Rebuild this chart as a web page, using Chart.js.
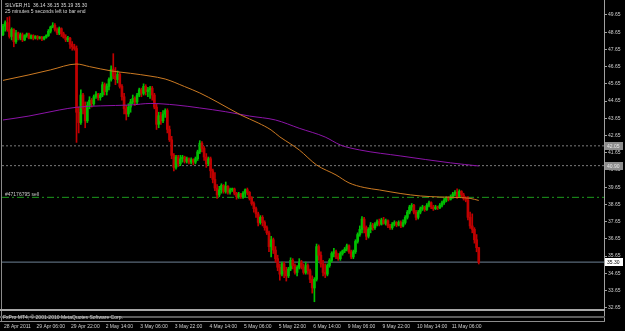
<!DOCTYPE html>
<html>
<head>
<meta charset="utf-8">
<script src="https://cdn.jsdelivr.net/npm/chart.js@4.4.0/dist/chart.umd.min.js"></script>
<style>
  html, body { margin: 0; padding: 0; background: #000; }
  #wrap { position: relative; width: 625px; height: 331px; background: #000; overflow: hidden; font-family: "Liberation Sans", Arial, sans-serif; }
  #wrap canvas { position: absolute; left: 0; top: 0; }
  .txt { position: absolute; color: #d8d8d8; font-size: 5px; line-height: 6px; white-space: nowrap; }
  .ln { position: absolute; }
</style>
</head>
<body>
<div id="wrap">
  <canvas id="chart" width="625" height="331"></canvas>
  <div class="ln" style="left:1px;top:0;width:1px;height:322px;background:#8a8a8a"></div>
  <div class="ln" style="left:604px;top:0;width:1px;height:322px;background:#a0a0a0"></div>
  <div class="ln" style="left:0;top:309px;width:605px;height:2px;background:#a8a8a8"></div>
  <div class="ln" style="left:0;top:316px;width:605px;height:2px;background:#5c5c5c"></div>
  <div class="ln" style="left:0;top:321px;width:605px;height:1px;background:#8c8c8c"></div>
  <div class="txt" style="left:5px;top:2px">SILVER,H1&nbsp; 36.14 36.15 35.19 35.30</div>
  <div class="txt" style="left:5px;top:8px">25 minutes 5 seconds left to bar end</div>
  <div class="txt" style="left:5px;top:191px;color:#c8c8c8">#47176795 sell</div>
  <div class="txt" style="left:3px;top:314px;color:#d0d0d0">FxPro MT4, © 2001-2010 MetaQuotes Software Corp.</div>
</div>
<script>
// hourly candles, [open, high, low, close]
const ohlc = [
  [48.5,49.1,48.45,49.0],[49.0,49.3,48.7,49.2],[49.2,49.5,48.7,48.8],[48.8,49.55,48.3,48.4],[48.4,48.9,48.2,48.8],
  [48.8,48.85,47.8,48.1],[48.1,48.75,48.0,48.6],[48.6,48.65,48.2,48.3],[48.3,48.6,48.2,48.5],[48.5,48.6,48.1,48.2],
  [48.2,48.5,48.15,48.45],[48.45,48.6,48.35,48.55],[48.55,48.6,48.25,48.3],[48.3,48.5,48.25,48.45],[48.45,48.5,48.2,48.3],
  [48.3,48.45,48.25,48.4],[48.4,48.45,48.2,48.3],[48.3,48.4,48.25,48.35],[48.35,48.4,48.15,48.25],[48.25,48.4,48.2,48.35],
  [48.35,48.5,48.3,48.45],[48.45,48.8,48.4,48.7],[48.7,49.0,48.6,48.95],[48.95,49.2,48.9,49.05],[49.05,49.15,48.7,48.8],
  [48.8,48.9,48.5,48.6],[48.6,48.95,48.5,48.85],[48.85,48.9,48.4,48.55],[48.55,48.65,48.3,48.35],[48.35,48.5,48.1,48.2],
  [48.2,48.4,48.1,48.3],[48.3,48.35,47.7,47.95],[47.95,48.1,47.6,47.8],[47.8,47.95,47.6,47.7],[47.7,47.85,42.25,44.0],
  [44.0,44.3,42.8,43.4],[43.4,45.3,43.3,45.0],[45.0,45.1,43.9,44.2],[44.2,44.6,43.1,43.5],[43.5,44.6,43.4,44.4],
  [44.4,44.9,44.2,44.7],[44.7,44.8,44.3,44.5],[44.5,45.0,44.4,44.9],[44.9,45.2,44.8,45.05],[45.05,45.1,44.7,44.85],
  [44.85,45.1,44.7,45.0],[45.0,45.75,44.9,45.6],[45.6,45.7,45.0,45.2],[45.2,45.65,45.0,45.5],[45.5,46.0,45.3,45.9],
  [45.9,46.7,45.8,46.5],[46.5,47.4,45.95,46.1],[46.1,46.6,45.6,45.9],[45.9,46.4,45.7,46.2],[46.2,46.3,45.4,45.5],
  [45.5,45.6,44.7,44.9],[44.9,45.1,43.9,44.2],[44.2,44.4,43.55,43.9],[43.9,44.5,43.75,44.3],[44.3,44.75,44.0,44.6],
  [44.6,45.0,44.5,44.8],[44.8,44.9,44.4,44.6],[44.6,45.1,44.5,45.0],[45.0,45.4,44.9,45.3],[45.3,45.4,44.9,45.1],
  [45.1,45.65,45.0,45.5],[45.5,45.6,45.0,45.2],[45.2,45.45,44.9,45.3],[45.3,45.5,44.8,45.4],[45.4,45.5,44.7,45.0],
  [45.0,45.1,44.2,44.3],[44.3,44.5,43.0,43.3],[43.3,44.0,43.1,43.8],[43.8,44.0,43.3,43.5],[43.5,44.1,43.4,43.9],
  [43.9,44.2,43.7,44.1],[44.1,44.2,42.8,43.0],[43.0,43.2,42.3,42.4],[42.4,42.6,41.3,41.5],[41.5,41.6,40.6,40.8],
  [40.8,41.5,40.7,41.4],[41.4,41.5,40.85,41.0],[41.0,41.5,40.9,41.3],[41.3,41.5,41.1,41.4],[41.4,41.45,41.05,41.15],
  [41.15,41.4,41.05,41.3],[41.3,41.35,41.0,41.1],[41.1,41.35,41.0,41.25],[41.25,41.3,40.95,41.1],[41.1,41.4,41.0,41.3],
  [41.3,41.8,41.2,41.7],[41.7,42.35,41.6,42.2],[42.2,42.3,41.7,41.9],[41.9,42.0,41.2,41.4],[41.4,41.6,40.8,41.0],
  [41.0,41.4,40.9,41.3],[41.3,41.4,40.2,40.6],[40.6,40.7,39.9,40.1],[40.1,40.5,39.45,39.6],[39.6,39.8,39.0,39.2],
  [39.2,39.7,39.1,39.5],[39.5,39.85,39.3,39.75],[39.75,39.8,39.3,39.4],[39.4,39.95,39.3,39.7],[39.7,39.75,39.25,39.35],
  [39.35,39.6,39.25,39.5],[39.5,39.6,39.4,39.55],[39.55,39.6,39.2,39.3],[39.3,39.35,38.95,39.1],[39.1,39.35,39.0,39.25],
  [39.25,39.3,39.0,39.1],[39.1,39.4,39.0,39.3],[39.3,39.55,39.1,39.5],[39.5,39.6,39.2,39.35],[39.35,39.4,38.9,39.0],
  [39.0,39.1,38.6,38.7],[38.7,38.8,38.2,38.4],[38.4,38.5,37.9,38.1],[38.1,38.2,37.4,37.6],[37.6,38.0,37.5,37.9],
  [37.9,38.0,37.4,37.6],[37.6,37.7,37.15,37.3],[37.3,37.4,36.9,37.0],[37.0,37.1,35.9,36.2],[36.2,36.8,35.6,36.6],
  [36.6,36.7,35.8,36.0],[36.0,36.2,35.3,35.5],[35.5,35.7,34.8,35.0],[35.0,35.2,34.25,34.6],[34.6,35.3,34.5,35.2],
  [35.2,35.3,34.4,34.8],[34.8,35.0,34.2,34.5],[34.5,35.0,34.4,34.9],[34.9,35.55,34.8,35.4],[35.4,35.5,34.9,35.1],
  [35.1,35.2,34.6,34.7],[34.7,35.1,34.5,35.0],[35.0,35.5,34.9,35.3],[35.3,35.4,34.9,35.0],[35.0,35.2,34.6,34.7],
  [34.7,35.3,34.6,35.1],[35.1,35.2,34.6,34.8],[34.8,34.9,34.1,34.3],[34.3,34.5,33.5,33.8],[33.8,34.4,33.0,34.3],
  [34.3,36.35,34.2,36.2],[36.2,36.3,35.4,35.7],[35.7,35.9,35.0,35.2],[35.2,35.4,34.5,34.7],[34.7,35.2,34.4,34.6],
  [34.6,35.2,34.5,35.1],[35.1,35.5,35.0,35.4],[35.4,35.9,35.3,35.8],[35.8,36.1,35.6,35.9],[35.9,36.0,35.5,35.6],
  [35.6,35.8,35.4,35.5],[35.5,35.9,35.4,35.8],[35.8,36.0,35.7,35.95],[35.95,36.15,35.85,36.05],[36.05,36.35,35.95,36.25],
  [36.25,36.3,35.8,35.9],[35.9,36.0,35.5,35.6],[35.6,36.0,35.5,35.9],[35.9,36.6,35.8,36.5],[36.5,37.0,36.4,36.9],
  [36.9,37.4,36.8,37.2],[37.2,37.95,37.0,37.8],[37.8,37.9,37.0,37.3],[37.3,37.4,36.6,36.8],[36.8,37.3,36.7,37.2],
  [37.2,37.6,37.0,37.45],[37.45,37.55,37.15,37.3],[37.3,37.6,37.2,37.5],[37.5,37.75,37.4,37.65],[37.65,37.8,37.4,37.5],
  [37.5,37.85,37.45,37.75],[37.75,37.9,37.5,37.55],[37.55,37.8,37.45,37.7],[37.7,37.75,37.3,37.4],[37.4,37.5,37.2,37.3],
  [37.3,37.6,37.2,37.5],[37.5,37.7,37.4,37.6],[37.6,37.65,37.35,37.45],[37.45,37.7,37.4,37.6],[37.6,37.7,37.3,37.4],
  [37.4,37.75,37.35,37.6],[37.6,38.0,37.5,37.9],[37.9,38.3,37.8,38.2],[38.2,38.6,38.1,38.5],[38.5,38.7,38.3,38.6],
  [38.6,38.65,38.1,38.2],[38.2,38.3,37.75,37.9],[37.9,38.3,37.8,38.2],[38.2,38.5,38.1,38.4],[38.4,38.6,38.3,38.5],
  [38.5,38.55,38.25,38.35],[38.35,38.7,38.3,38.6],[38.6,38.85,38.5,38.75],[38.75,38.8,38.4,38.5],[38.5,38.6,38.3,38.4],
  [38.4,38.6,38.35,38.5],[38.5,38.55,38.35,38.45],[38.45,38.7,38.4,38.6],[38.6,38.85,38.5,38.75],[38.75,39.0,38.65,38.9],
  [38.9,39.1,38.8,39.05],[39.05,39.1,38.85,38.95],[38.95,39.2,38.9,39.1],[39.1,39.35,39.0,39.25],[39.25,39.45,39.15,39.35],
  [39.35,39.55,39.0,39.1],[39.1,39.5,39.05,39.4],[39.4,39.45,39.1,39.2],[39.2,39.3,38.9,39.0],[39.0,39.1,38.8,38.9],
  [38.9,39.1,37.75,37.9],[37.9,38.2,37.25,37.4],[37.4,38.1,37.0,37.2],[37.2,37.3,36.4,36.6],[36.6,36.9,35.9,36.14],
  [36.14,36.15,35.19,35.30]
];

// moving averages, [bar, price]
const orangeMA = [
  [0,45.85],[12,46.17],[22,46.46],[34,46.8],[40,46.65],[50,46.4],[59,46.26],[68,46.1],[75,45.93],[84,45.49],
  [91,45.12],[99,44.6],[110,43.84],[118,43.38],[124,42.97],[128,42.57],[133,42.16],[137,41.81],[145,40.94],
  [154,40.36],[160,39.9],[167,39.63],[174,39.49],[184,39.28],[193,39.14],[202,39.08],[211,39.05],[216,39.0],[220,38.88]
];
const purpleMA = [
  [0,43.55],[12,43.78],[26,44.13],[34,44.29],[45,44.37],[59,44.42],[68,44.51],[80,44.42],[91,44.25],[103,44.03],
  [114,43.78],[126,43.55],[137,43.07],[149,42.56],[156,42.1],[165,41.81],[184,41.46],[207,41.06],[220,40.88]
];

const dottedLevels = [42.05, 40.90];
const sellPrice = 39.06;
const bidPrice = 35.30;
const priceMarks = [42.05, 40.90, 35.30];

const yTickValues = [49.65,48.65,47.65,46.65,45.65,44.65,43.65,42.65,41.65,40.65,39.65,38.65,37.65,36.65,35.65,34.65,33.65,32.65];
const xTickBars = [0,15,31,47,63,79,95,111,127,143,159,175,191,207];
const xTickLabels = ['28 Apr 2011','29 Apr 06:00','29 Apr 22:00','2 May 14:00','3 May 06:00','3 May 22:00','4 May 14:00',
  '5 May 06:00','5 May 22:00','6 May 14:00','9 May 06:00','9 May 22:00','10 May 14:00','11 May 06:00'];

const X_MIN = -0.4624, X_MAX = 277.92;
const FONT = '"Liberation Sans", Arial, sans-serif';
const UP = '#00c000', DOWN = '#c00000';

const barColors = ohlc.map(b => b[3] >= b[0] ? UP : DOWN);

function hline(v, color, dash) {
  return {
    type: 'line', data: [{x: X_MIN, y: v}, {x: X_MAX, y: v}],
    borderColor: color, borderWidth: 1, borderDash: dash, pointRadius: 0, order: 5
  };
}

const priceBoxes = {
  id: 'priceBoxes',
  afterDraw(chart) {
    const ctx = chart.ctx, ys = chart.scales.y;
    ctx.save();
    ctx.font = '5px ' + FONT;
    ctx.textBaseline = 'middle';
    priceMarks.forEach(v => {
      const py = Math.round(ys.getPixelForValue(v));
      const isBid = v === bidPrice;
      ctx.fillStyle = isBid ? '#ffffff' : '#8c8c8c';
      ctx.fillRect(605, py - 4, 18, 8);
      ctx.fillStyle = isBid ? '#000000' : '#e8e8e8';
      ctx.fillText(v.toFixed(2), 607, py + 0.5);
    });
    ctx.restore();
  }
};

new Chart(document.getElementById('chart'), {
  type: 'bar',
  data: {
    datasets: [
      {
        type: 'line', data: orangeMA.map(p => ({x: p[0], y: p[1]})),
        borderColor: '#cc7a22', borderWidth: 1, pointRadius: 0, cubicInterpolationMode: 'monotone', order: 1
      },
      {
        type: 'line', data: purpleMA.map(p => ({x: p[0], y: p[1]})),
        borderColor: '#8c14a8', borderWidth: 1, pointRadius: 0, cubicInterpolationMode: 'monotone', order: 1
      },
      {
        data: ohlc.map((b, i) => ({x: i, y: [b[2], b[1]]})),
        backgroundColor: barColors, barThickness: 1, grouped: false, order: 3
      },
      {
        data: ohlc.map((b, i) => ({x: i, y: [b[0], b[3]]})),
        backgroundColor: barColors, barThickness: 2, minBarLength: 1, grouped: false, order: 2
      },
      hline(dottedLevels[0], '#7c7c7c', [2, 2]),
      hline(dottedLevels[1], '#7c7c7c', [2, 2]),
      hline(sellPrice, '#1c9c1c', [7, 3, 2, 3]),
      hline(bidPrice, '#6f8296', [])
    ]
  },
  options: {
    responsive: false,
    animation: false,
    events: [],
    layout: { padding: { left: 2, top: 2, right: 0, bottom: 0 } },
    plugins: { legend: { display: false }, tooltip: { enabled: false } },
    scales: {
      x: {
        type: 'linear', min: X_MIN, max: X_MAX, offset: false,
        grid: { display: false, drawTicks: false },
        border: { display: false },
        afterBuildTicks: s => { s.ticks = xTickBars.map(v => ({value: v})); },
        afterFit: s => { s.height = 21; s.paddingLeft = 0; s.paddingRight = 0; },
        ticks: {
          color: '#cfcfcf', font: { size: 5, family: FONT }, padding: 14,
          align: 'start', labelOffset: 1, maxRotation: 0, autoSkip: false,
          callback: (v, i) => xTickLabels[i]
        }
      },
      y: {
        position: 'right', min: 32.52, max: 50.40,
        grid: { display: true, drawOnChartArea: false, drawTicks: true, tickLength: 3, color: '#a0a0a0' },
        border: { display: false },
        afterBuildTicks: s => { s.ticks = yTickValues.map(v => ({value: v})); },
        afterFit: s => { s.width = 21; s.paddingTop = 0; s.paddingBottom = 0; },
        ticks: { color: '#cfcfcf', font: { size: 5, family: FONT }, padding: 1, callback: v => v.toFixed(2) }
      }
    }
  },
  plugins: [priceBoxes]
});
</script>
</body>
</html>
